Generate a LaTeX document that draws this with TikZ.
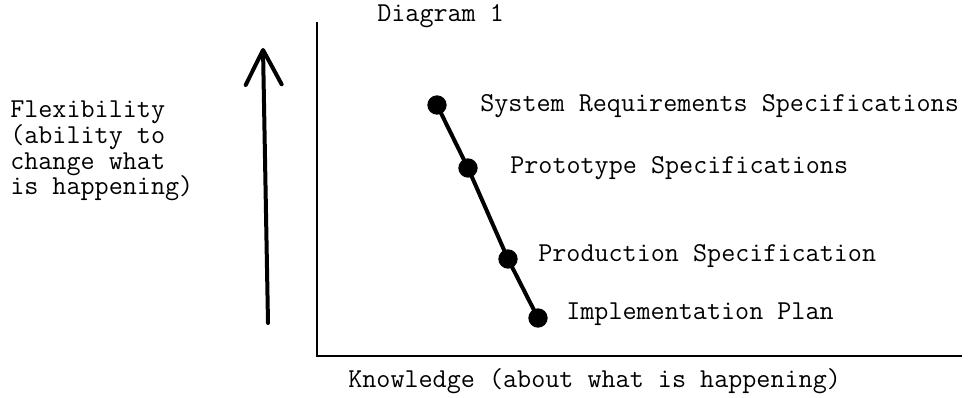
\documentclass[tikz,border=0pt]{standalone}
\usepackage{fontspec}
\usetikzlibrary{arrows.meta,positioning}

\tikzset{
  every node/.style={font=\ttfamily\fontsize{20.5}{19.3}\selectfont, inner sep=0pt},
  spec dot/.style={circle, fill=black, minimum size=14.5pt},
  axis line/.style={line width=1pt},
  stage line/.style={line width=3pt},
}

\begin{document}
\begin{tikzpicture}[x=0.75pt, y=-0.75pt, >={Straight Barb[length=26pt,width=27pt,round]}]
\useasboundingbox (0,0) rectangle (979,398);

% axes
\coordinate (axis-top) at (317,22);
\coordinate (origin) at (317,356);
\coordinate (axis-right) at (962,356);
\draw [axis line] (axis-top) -- (origin) -- (axis-right);

% flexibility arrow
\coordinate (flex-tail) at (268,323);
\coordinate (flex-head) at (263,48);
\draw [->, line width=3pt, line cap=round] (flex-tail) -- (flex-head);

% stages
\foreach \n/\px/\py in {1/437/105, 2/468/168, 3/508/259, 4/538/318}
  \node [spec dot] (spec-\n) at (\px,\py) {};

\draw [stage line] (spec-1.center) -- (spec-2.center) -- (spec-3.center) -- (spec-4.center);

\foreach \n/\px/\py/\l in {1/480/112/System Requirements Specifications,
                           2/510/174/Prototype Specifications,
                           3/538/262/Production Specification,
                           4/566/320/Implementation Plan}
  \node [anchor=base west] (label-\n) at (\px,\py) {\l};

% titles
\node [anchor=base west] (title) at (377,22) {Diagram 1};
\node [anchor=base west] (x-label) at (348,388) {Knowledge (about what is happening)};
\node [anchor=base west, align=left] (y-label) at (10,195)
  {Flexibility\\(ability to\\change what\\is happening)};

\end{tikzpicture}
\end{document}
